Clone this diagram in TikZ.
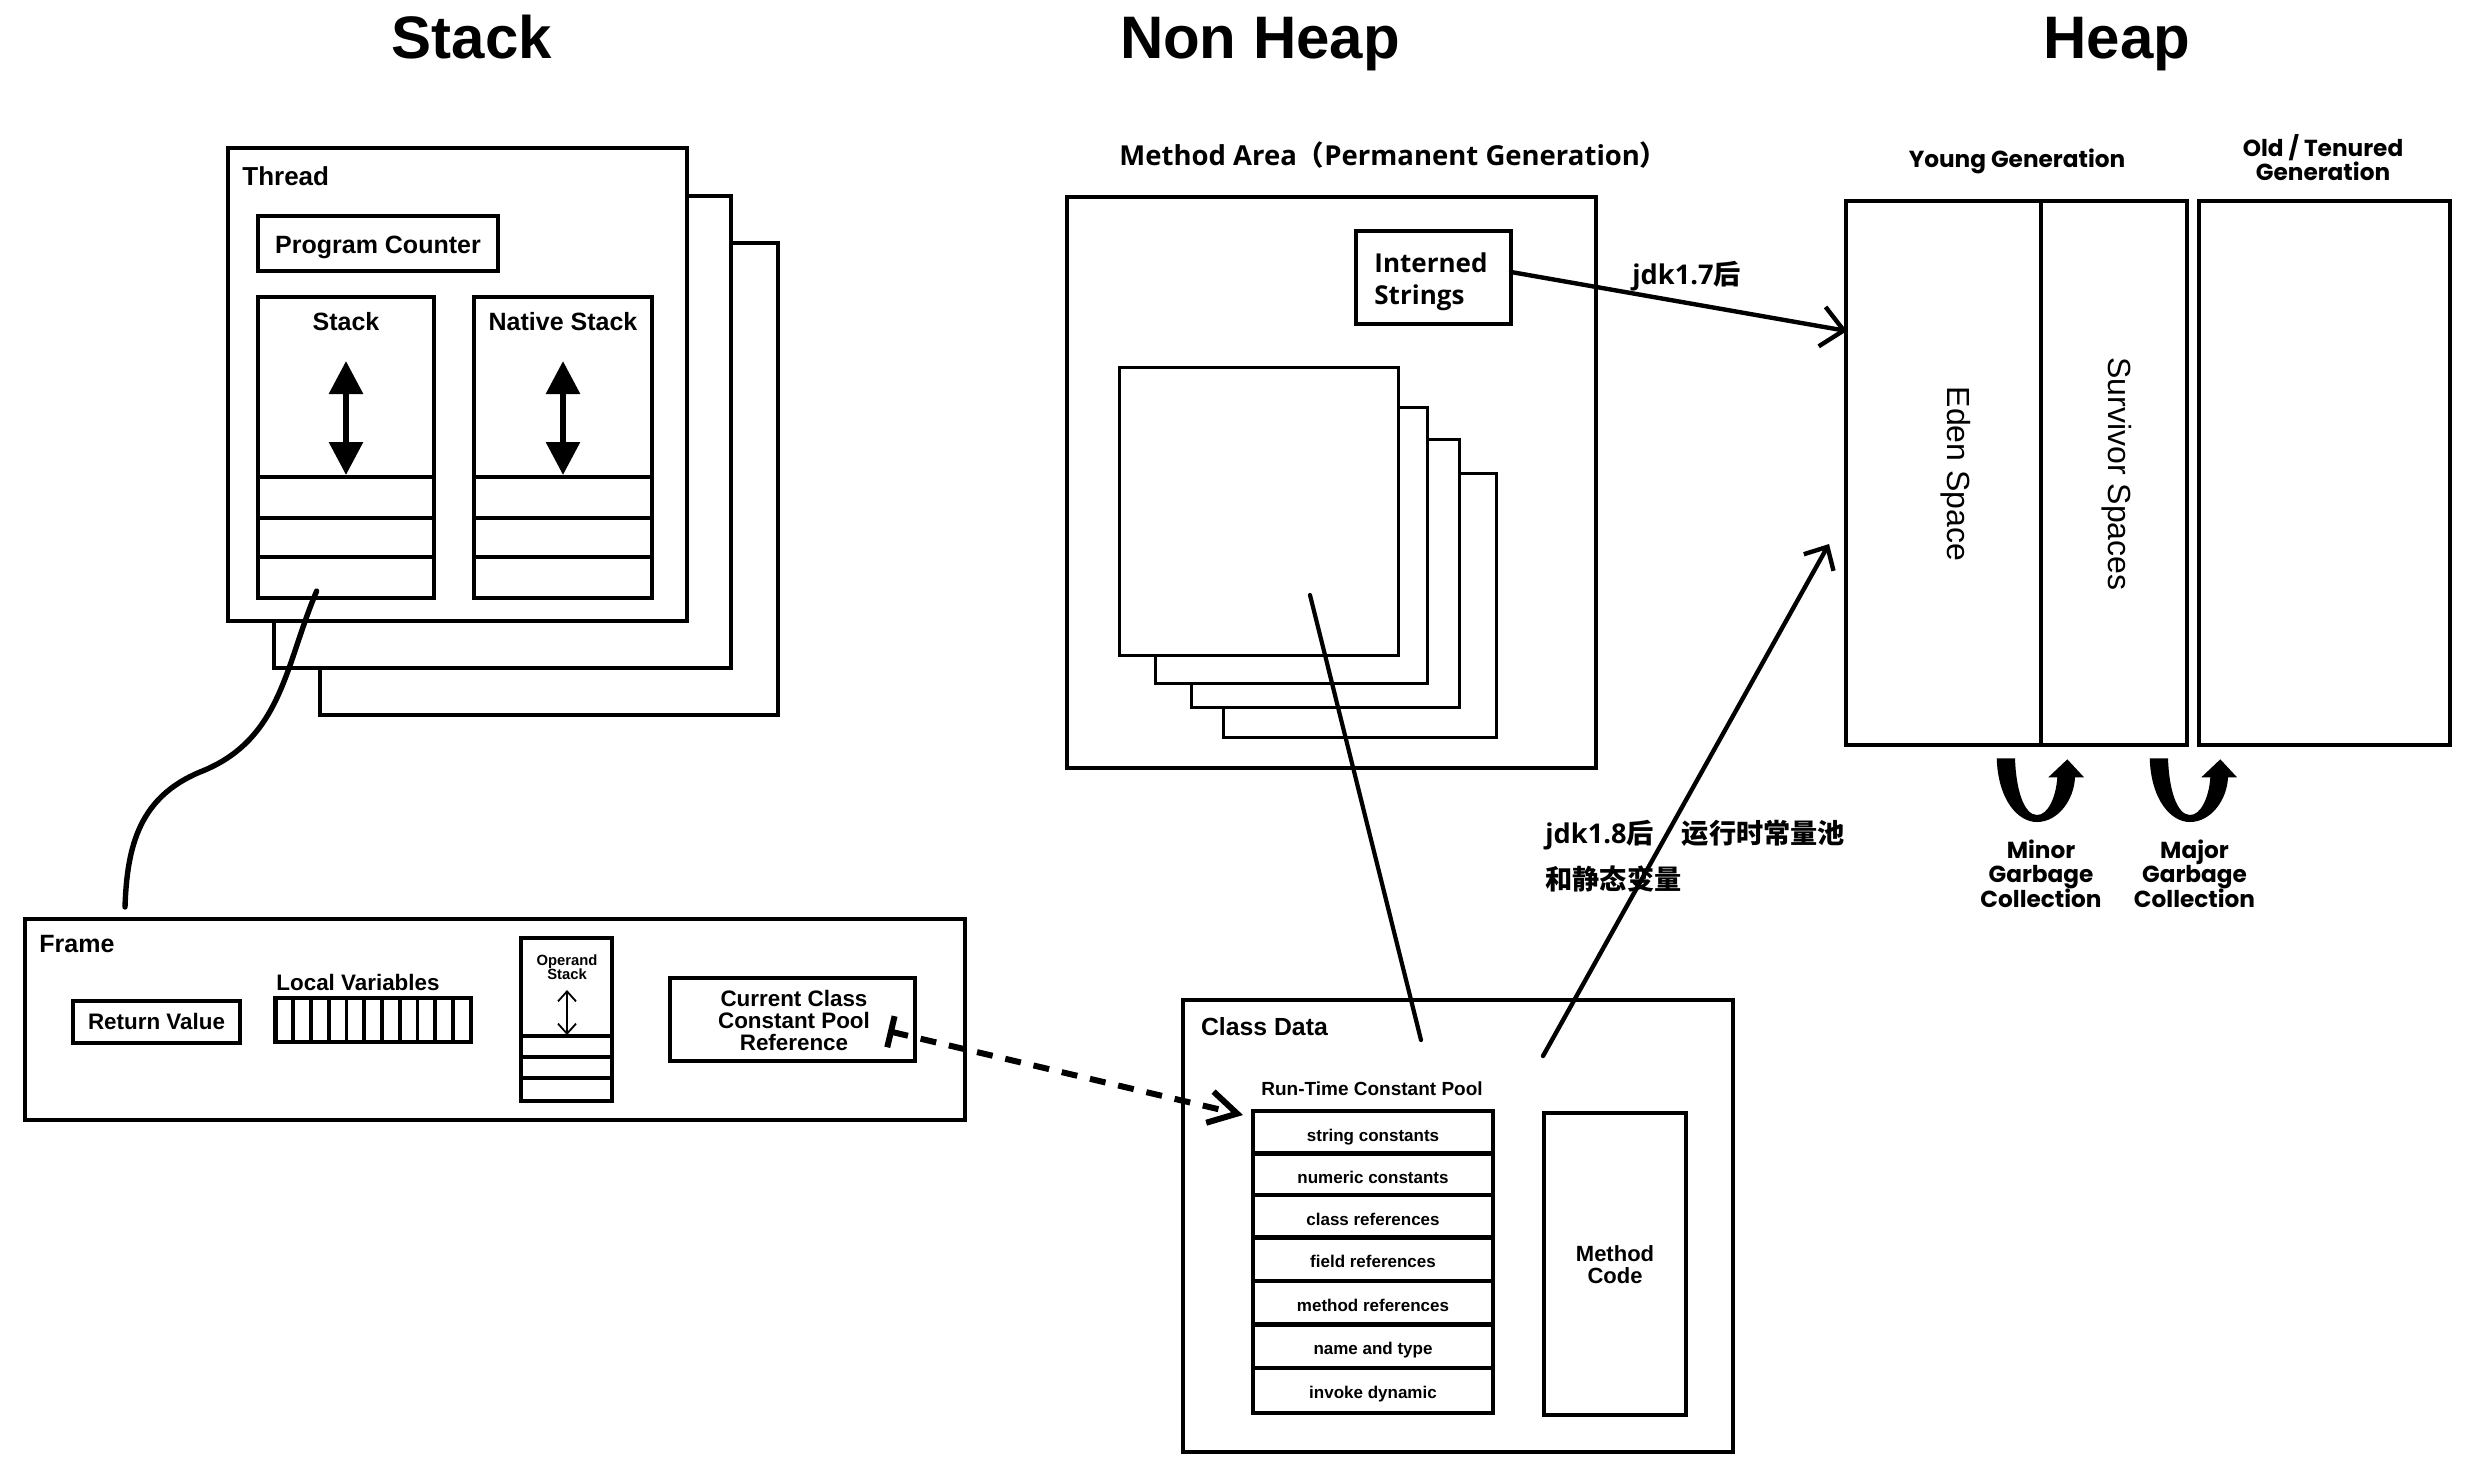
\documentclass[tikz,border=0pt]{standalone}
\usepackage{fontspec}
\setmainfont{Liberation Sans}
\newfontfamily\geofont{Poppins}
\newfontfamily\cjkfont{Noto Sans CJK SC}
\newfontfamily\uifont{Open Sans}
\usetikzlibrary{arrows.meta,fit}
\newcommand{\fsz}[2]{\fontsize{#1}{#2}\selectfont}
\newcommand{\ui}[1]{{\uifont\bfseries #1}}
\newcommand{\zh}[1]{{\cjkfont\bfseries #1}}

\begin{document}
\begin{tikzpicture}[x=0.5pt,y=-0.5pt,
  box/.style={draw,line width=2.2pt,fill=white,inner sep=0pt},
  pagebox/.style={draw,line width=1.5pt,fill=white,inner sep=0pt},
  lbl/.style={inner sep=0pt,anchor=base},
  lblw/.style={inner sep=0pt,anchor=base west},
  titletext/.style={lbl,font=\fsz{30pt}{36pt}\bfseries},
  threadtext/.style={font=\fsz{12.5pt}{15pt}\bfseries},
  frametext/.style={font=\fsz{11.2pt}{13pt}\bfseries},
  rowtext/.style={lbl,font=\fsz{8.5pt}{10pt}\bfseries},
  heaptext/.style={lbl,font=\geofont\fsz{11.6pt}{14pt}\bfseries},
  spacetext/.style={inner sep=0pt,rotate=-90,font=\fsz{16pt}{19pt}},
  cjktext/.style={inner sep=0pt,anchor=base west,font=\fsz{13.6pt}{23pt}},
  link/.style={line width=2.2pt,line cap=round},
  bigtip/.tip={Triangle[length=16.5pt,width=16.5pt]},
  barb/.tip={Straight Barb[length=11pt,width=20pt]}
]
\fill[white] (0,0) rectangle (2476,1469);
\useasboundingbox (0,0) rectangle (2476,1469);

% ---------- column titles ----------
\node[titletext] (tStack) at (472,58) {Stack};
\node[titletext] (tNonHeap) at (1260,58) {Non Heap};
\node[titletext] (tHeap) at (2117,58) {Heap};

% ---------- threads ----------
\node[box,fit={(320,243) (778,715)}] (thread3) {};
\node[box,fit={(274,196) (731,668)}] (thread2) {};
\node[box,fit={(228,148) (687,621)}] (thread1) {};
\node[lblw,font=\fsz{13pt}{15pt}\bfseries] (threadLbl) at (242,185) {Thread};
\node[box,fit={(258,216) (498,271)}] (pc) {};
\node[lbl,threadtext] (pcLbl) at (378,253) {Program Counter};

\node[box,fit={(258,297) (434,598)}] (jstack) {};
\node[box,fit={(474,297) (652,598)}] (nstack) {};
\node[lbl,threadtext] (jstackLbl) at (346,330) {Stack};
\node[lbl,threadtext] (nstackLbl) at (563,330) {Native Stack};
\foreach \yy in {477,518,557}{
  \draw[line width=2.2pt] (258,\yy) -- (434,\yy);
  \draw[line width=2.2pt] (474,\yy) -- (652,\yy);
}
\draw[line width=3pt,{bigtip}-{bigtip}] (346,361) -- (346,475);
\draw[line width=3pt,{bigtip}-{bigtip}] (563,361) -- (563,475);

% ---------- frame ----------
\node[box,fit={(25,919) (965,1120)}] (frame) {};
\node[lblw,font=\fsz{12.5pt}{15pt}\bfseries] (frameLbl) at (39,952) {Frame};
\node[box,fit={(73,1001) (240,1043)}] (retval) {};
\node[lbl,frametext] (retvalLbl) at (156.5,1029.3) {Return Value};
\node[lbl,frametext] (locLbl) at (358,990.7) {Local Variables};
\node[box,fit={(275.5,998) (470.7,1041.7)}] (locvars) {};
\foreach \k in {1,...,10}{
  \draw[line width=1.8pt] (275.5+\k*17.75,998) -- (275.5+\k*17.75,1041.7);
}
\node[box,fit={(521,938) (612,1101)}] (opstack) {};
\foreach \yy in {1036,1057,1078}{
  \draw[line width=2.2pt] (521,\yy) -- (612,\yy);
}
\node[lbl,font=\fsz{7.4pt}{8pt}\bfseries] (opLbl1) at (567,965) {Operand};
\node[lbl,font=\fsz{7.4pt}{8pt}\bfseries] (opLbl2) at (567,979.3) {Stack};
\draw[line width=0.9pt,{Straight Barb[length=5pt,width=9pt]}-{Straight Barb[length=5pt,width=9pt]}] (567,990) -- (567,1035);

\node[box,fit={(670,978) (915,1061)}] (ccpref) {};
\node[lbl,frametext] (ccLbl1) at (794,1006) {Current Class};
\node[lbl,frametext] (ccLbl2) at (794,1028.3) {Constant Pool};
\node[lbl,frametext] (ccLbl3) at (794,1050.7) {Reference};

% link from the stack to its frame
\coordinate (curveA) at (316.7,591);
\coordinate (curveB) at (125,907);
\draw[line width=2.7pt,line cap=round] (curveA) .. controls (285,665) and (282,740) .. (200,772)
  .. controls (140,797) and (127,845) .. (curveB);

% ---------- method area ----------
\node[lblw] (maLbl) at (1119,165.5)
  {\fsz{13.75pt}{17pt}\ui{Method Area}\zh{（}\ui{Permanent Generation}\zh{）}};
\node[box,fit={(1067,197) (1596,768)}] (marea) {};
\node[box,fit={(1356,231) (1511,324)}] (interned) {};
\node[lblw,font=\fsz{13pt}{15pt}] (intLbl1) at (1374,272.6) {\ui{Interned}};
\node[lblw,font=\fsz{13pt}{15pt}] (intLbl2) at (1374,304) {\ui{Strings}};
\node[pagebox,fit={(1223,473) (1496,737)}] (page4) {};
\node[pagebox,fit={(1191,439) (1459,707)}] (page3) {};
\node[pagebox,fit={(1155,407) (1427,683)}] (page2) {};
\node[pagebox,fit={(1119,367) (1398,655)}] (page1) {};

% ---------- class data ----------
\node[box,fit={(1183,1000) (1733,1452)}] (cdata) {};
\node[lblw,font=\fsz{12.4pt}{15pt}\bfseries] (cdLbl) at (1200.6,1035) {Class Data};
\node[lbl,font=\fsz{9.5pt}{11pt}\bfseries] (rtcpLbl) at (1372,1095) {Run-Time Constant Pool};
\foreach \i/\ta/\tb/\txt in {1/1111/1153.3/string constants,
                             2/1153.3/1195/numeric constants,
                             3/1195/1237.3/class references,
                             4/1237.3/1280.7/field references,
                             5/1280.7/1324.3/method references,
                             6/1324.3/1367.7/name and type,
                             7/1367.7/1413/invoke dynamic}{
  \node[box,fit={(1253,\ta) (1493,\tb)}] (row\i) {};
  \node[rowtext] (rowLbl\i) at (1373,\ta+30.5) {\txt};
}
\node[box,fit={(1544,1113) (1686,1415)}] (mcode) {};
\node[lbl,font=\fsz{11pt}{13pt}\bfseries] (mcLbl1) at (1615,1261.7) {Method};
\node[lbl,font=\fsz{11pt}{13pt}\bfseries] (mcLbl2) at (1615,1283.3) {Code};

% ---------- heap ----------
\node[heaptext] (youngLbl) at (2017,167) {Young Generation};
\node[heaptext] (oldLbl1) at (2323,156) {Old / Tenured};
\node[heaptext] (oldLbl2) at (2323,180) {Generation};
\node[box,fit={(1846,201) (2041,745)}] (eden) {};
\node[box,fit={(2041,201) (2187,745)}] (survivor) {};
\node[box,fit={(2199,201) (2450,745)}] (old) {};
\node[spacetext] (edenLbl) at (1956,474) {Eden Space};
\node[spacetext] (survLbl) at (2117,474) {Survivor Spaces};

% garbage collection turn arrows
\foreach \dx in {0,153}{
  \fill[shift={(\dx,0)}] (1996.7,758.3) .. controls (1998,800) and (2018,822) .. (2036.7,822)
    .. controls (2058,822) and (2074,800) .. (2075,777.3)
    -- (2084,777.3) -- (2067.3,759.3) -- (2048.3,777.3) -- (2057.3,777.3)
    .. controls (2056,797) and (2048,815) .. (2037,815)
    .. controls (2024,815) and (2016,790) .. (2015,758.3) -- cycle;
}
\node[heaptext] (minorLbl1) at (2041,858) {Minor};
\node[heaptext] (minorLbl2) at (2041,882.5) {Garbage};
\node[heaptext] (minorLbl3) at (2041,907) {Collection};
\node[heaptext] (majorLbl1) at (2194.5,858) {Major};
\node[heaptext] (majorLbl2) at (2194.5,882.5) {Garbage};
\node[heaptext] (majorLbl3) at (2194.5,907) {Collection};

% ---------- connectors ----------
\coordinate (intOut) at (1511,272);
\coordinate (edenIn17) at (1847,331);
\draw[link,-{barb}] (intOut) -- (edenIn17);
\node[cjktext] (jdk17Lbl) at (1632,284) {\ui{jdk1.7}\zh{后}};

\coordinate (poolOut) at (1310,595);
\coordinate (cdIn) at (1421,1040);
\draw[link,line width=2.1pt] (poolOut) -- (cdIn);

\coordinate (cdOut) at (1543,1056);
\coordinate (edenIn18) at (1829,544);
\draw[link,-{Straight Barb[length=9pt,width=17pt]}] (cdOut) -- (edenIn18);
\node[cjktext] (jdk18Lbl1) at (1545,843) {\ui{jdk1.8}\zh{后}\hspace{14pt}\zh{运行时常量池}};
\node[cjktext] (jdk18Lbl2) at (1545,889) {\zh{和静态变量}};

\coordinate (refOut) at (888,1031);
\coordinate (rtcpIn) at (1243,1115);
\draw[line width=3pt,dash pattern=on 8pt off 6.5pt,
  {Bar[width=16pt]}-{Straight Barb[length=14pt,width=16pt]}] (refOut) -- (rtcpIn);
\end{tikzpicture}
\end{document}
